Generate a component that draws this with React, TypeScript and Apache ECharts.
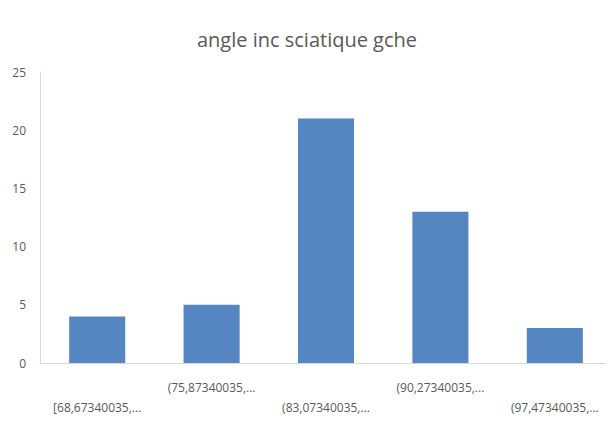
import React, { useEffect, useRef } from "react";
import * as echarts from "echarts";

const categories = [
  "[68,67340035,...",
  "(75,87340035,...",
  "(83,07340035,...",
  "(90,27340035,...",
  "(97,47340035,...",
];
const values = [4, 5, 21, 13, 3];
const title = "angle inc sciatique gche";

export default function App() {
  const ref = useRef<HTMLDivElement>(null);
  useEffect(() => {
    if (!ref.current) return;
    const chart = echarts.init(ref.current, null, { renderer: "svg" });
    chart.setOption({
      animation: false,
      backgroundColor: "#ffffff",
      textStyle: { fontFamily: "Open Sans" },
      title: {
        text: title,
        left: "center",
        top: 24,
        textStyle: {
          fontFamily: "Open Sans",
          fontSize: 20,
          fontWeight: "normal",
          color: "#595959",
        },
      },
      grid: { left: 40, right: 2, top: 72, bottom: 59, containLabel: false },
      xAxis: {
        type: "category",
        data: categories,
        axisLine: { lineStyle: { color: "#d9d9d9" } },
        axisTick: { show: false },
        axisLabel: {
          interval: 0,
          color: "#595959",
          fontSize: 12,
          fontFamily: "Open Sans",
          margin: 14,
          lineHeight: 20,
          overflow: "none",
          formatter: (v: string, i: number) => (i % 2 === 0 ? "\n" + v : v),
        },
      },
      yAxis: {
        type: "value",
        min: 0,
        max: 25,
        interval: 5,
        splitLine: { show: false },
        axisLine: { show: true, lineStyle: { color: "#d9d9d9" } },
        axisTick: { show: false },
        axisLabel: {
          color: "#595959",
          fontSize: 12,
          fontFamily: "Open Sans",
          margin: 14,
        },
      },
      series: [
        {
          type: "bar",
          data: values,
          barWidth: "49%",
          itemStyle: { color: "#5586c2" },
        },
      ],
    });
    return () => chart.dispose();
  }, []);
  return <div ref={ref} style={{ width: 614, height: 422, margin: -8 }} />;
}
